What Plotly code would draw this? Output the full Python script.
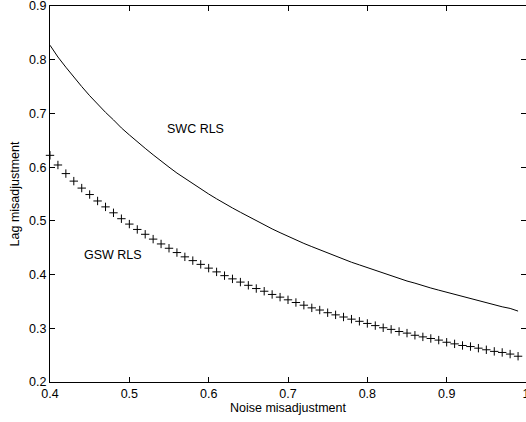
import plotly.graph_objects as go

noise_mis = [0.40, 0.41, 0.42, 0.43, 0.44, 0.45, 0.46, 0.47, 0.48, 0.49,
             0.50, 0.51, 0.52, 0.53, 0.54, 0.55, 0.56, 0.57, 0.58, 0.59,
             0.60, 0.61, 0.62, 0.63, 0.64, 0.65, 0.66, 0.67, 0.68, 0.69,
             0.70, 0.71, 0.72, 0.73, 0.74, 0.75, 0.76, 0.77, 0.78, 0.79,
             0.80, 0.81, 0.82, 0.83, 0.84, 0.85, 0.86, 0.87, 0.88, 0.89,
             0.90, 0.91, 0.92, 0.93, 0.94, 0.95, 0.96, 0.97, 0.98, 0.99]

swc_rls = [0.827, 0.805, 0.786, 0.767, 0.750, 0.733, 0.717, 0.702, 0.688, 0.673,
           0.660, 0.647, 0.635, 0.623, 0.611, 0.600, 0.589, 0.579, 0.569, 0.559,
           0.550, 0.541, 0.532, 0.524, 0.516, 0.508, 0.500, 0.493, 0.485, 0.478,
           0.471, 0.465, 0.458, 0.452, 0.446, 0.440, 0.434, 0.429, 0.423, 0.418,
           0.413, 0.407, 0.402, 0.398, 0.393, 0.388, 0.384, 0.379, 0.375, 0.371,
           0.367, 0.363, 0.359, 0.355, 0.351, 0.347, 0.344, 0.340, 0.337, 0.332]

gsw_rls = [0.622, 0.604, 0.588, 0.574, 0.561, 0.549, 0.537, 0.526, 0.515, 0.504,
           0.494, 0.484, 0.475, 0.466, 0.457, 0.449, 0.441, 0.433, 0.426, 0.419,
           0.412, 0.405, 0.398, 0.392, 0.386, 0.380, 0.374, 0.369, 0.363, 0.358,
           0.353, 0.348, 0.343, 0.338, 0.334, 0.329, 0.325, 0.321, 0.317, 0.313,
           0.309, 0.305, 0.301, 0.298, 0.294, 0.291, 0.287, 0.284, 0.281, 0.278,
           0.274, 0.271, 0.268, 0.266, 0.263, 0.260, 0.257, 0.255, 0.252, 0.248]

x_ticks = [0.4, 0.5, 0.6, 0.7, 0.8, 0.9, 1.0]
x_tick_text = ["0.4", "0.5", "0.6", "0.7", "0.8", "0.9", "1"]
y_ticks = [0.2, 0.3, 0.4, 0.5, 0.6, 0.7, 0.8, 0.9]
y_tick_text = ["0.2", "0.3", "0.4", "0.5", "0.6", "0.7", "0.8", "0.9"]

font_family = "Liberation Sans, Arial, Helvetica, sans-serif"
fs = 12.5

fig = go.Figure()
fig.add_trace(go.Scatter(x=noise_mis, y=swc_rls, mode="lines",
                         line=dict(color="black", width=1), name="SWC RLS",
                         cliponaxis=False))
fig.add_trace(go.Scatter(x=noise_mis, y=gsw_rls, mode="markers",
                         marker=dict(symbol="cross-thin", size=6,
                                     line=dict(color="black", width=1)),
                         name="GSW RLS", cliponaxis=False))

axis_common = dict(showgrid=False, zeroline=False, showline=True, linecolor="black",
                   linewidth=1, mirror="allticks", ticks="inside", ticklen=5,
                   tickcolor="black", tickwidth=1, automargin=False,
                   ticklabeloverflow="allow",
                   tickfont=dict(family=font_family, size=fs, color="black"))

fig.update_xaxes(range=[0.4, 1.0], tickvals=x_ticks, ticktext=x_tick_text,
                 title=dict(text="Noise misadjustment", standoff=2,
                            font=dict(family=font_family, size=fs, color="black")),
                 **axis_common)
fig.update_yaxes(range=[0.2, 0.9], tickvals=y_ticks, ticktext=y_tick_text,
                 title=dict(text="Lag misadjustment", standoff=6,
                            font=dict(family=font_family, size=fs, color="black")),
                 **axis_common)

fig.add_annotation(x=0.583, y=0.671, text="SWC RLS", showarrow=False,
                   font=dict(family=font_family, size=fs, color="black"))
fig.add_annotation(x=0.479, y=0.436, text="GSW RLS", showarrow=False,
                   font=dict(family=font_family, size=fs, color="black"))

fig.update_layout(width=526, height=422, showlegend=False,
                  plot_bgcolor="white", paper_bgcolor="white",
                  margin=dict(l=50, r=0, t=6, b=40))

fig.write_html("out.html", config={"displayModeBar": False},
               post_script="document.body.style.margin='0';document.body.style.overflow='hidden';")
